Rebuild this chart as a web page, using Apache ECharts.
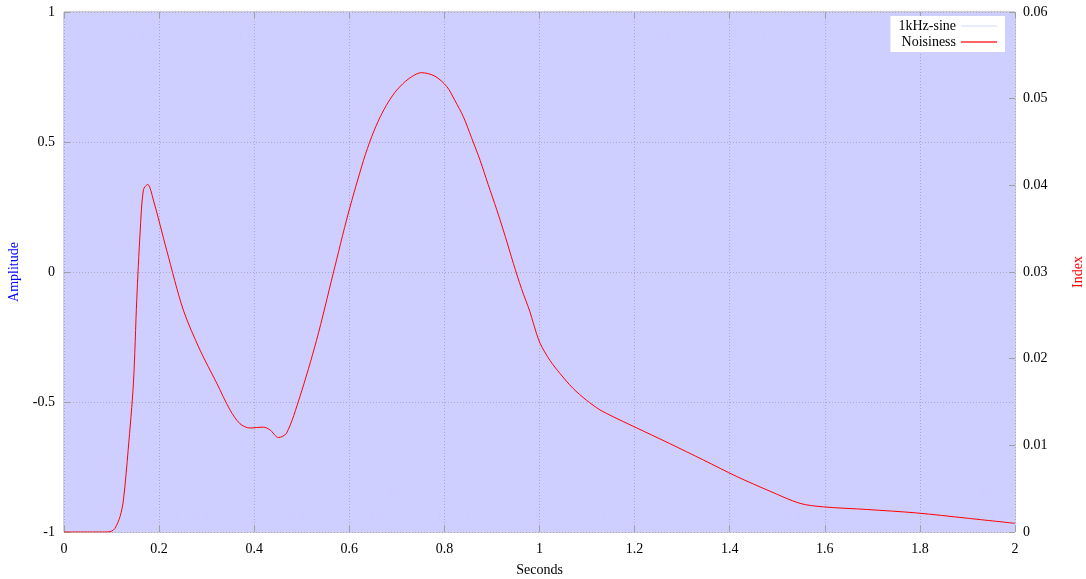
<!DOCTYPE html>
<html lang="en">

<head>
    <meta charset="UTF-8">
    <title>1kHz-sine / Noisiness</title>
    <script src="https://cdn.jsdelivr.net/npm/echarts@6/dist/echarts.min.js"></script>
    <style>
        html, body { margin: 0; padding: 0; background: #fff; }
        #chart { width: 1086px; height: 579px; }
    </style>
</head>

<body>
    <div id="chart"></div>

    <script>
        // 数据
        // one period of the 1 kHz sine (peaks at +1 / -1)
        let sineCycle = [0, 1, 0, -1]
        let sineFreqHz = 1000
        let durationSec = 2

        // Noisiness index
        let noiseT = [0, 0.05, 0.09, 0.1, 0.107, 0.118, 0.125, 0.135, 0.146, 0.153, 0.16, 0.167, 0.176, 0.188,
            0.216, 0.251, 0.286, 0.321, 0.349, 0.37, 0.391, 0.419, 0.433, 0.451, 0.468, 0.496, 0.531, 0.566,
            0.598, 0.63, 0.647, 0.665, 0.682, 0.7, 0.725, 0.752, 0.78, 0.805, 0.822, 0.84, 0.857, 0.875, 0.892,
            0.91, 0.928, 0.945, 0.962, 0.98, 0.987, 1.001, 1.022, 1.043, 1.07, 1.099, 1.127,
            1.155, 1.197, 1.274, 1.345, 1.415, 1.485, 1.548, 1.597, 1.688, 1.793, 1.898, 2.0]
        let noiseV = [0, 0, 0, 0.0001, 0.0004, 0.0018, 0.0037, 0.0095, 0.0172, 0.0268, 0.0345, 0.0395, 0.0401, 0.0383,
            0.0325, 0.0256, 0.021, 0.0172, 0.0141, 0.0125, 0.012, 0.0121, 0.0118, 0.0109, 0.0114, 0.0156, 0.0221, 0.0298,
            0.0368, 0.0429, 0.0456, 0.0479, 0.0496, 0.051, 0.0523, 0.053, 0.0526, 0.0514, 0.0498, 0.0479, 0.0455, 0.0429, 0.0401,
            0.0372, 0.0341, 0.031, 0.0281, 0.0254, 0.0241, 0.0218, 0.0198, 0.0183, 0.0166, 0.0152, 0.0141,
            0.0133, 0.0122, 0.0102, 0.0083, 0.0064, 0.0047, 0.0033, 0.0029, 0.0026, 0.0022, 0.0016, 0.001]

        // build series data
        let sineData = []
        let step = 1 / (sineFreqHz * sineCycle.length)
        let total = Math.round(durationSec / step)
        for (let i = 0; i <= total; i++) {
            sineData.push([i * step, sineCycle[i % sineCycle.length]])
        }
        let noiseData = []
        for (let i = 0; i < noiseT.length; i++) {
            noiseData.push([noiseT[i], noiseV[i]])
        }

        let myChart = echarts.init(document.getElementById('chart'))
        let font = 'Liberation Serif'
        let grey = '#a0a0a0'
        let gridLine = { show: true, lineStyle: { color: '#a8a8c8', type: [1, 2], width: 1 } }
        let tick = { show: true, inside: true, length: 6, lineStyle: { color: grey } }

        let option = {
            animation: false,
            textStyle: { fontFamily: font },
            grid: {
                left: 64, right: 71, top: 12, bottom: 47,
                outerBoundsMode: 'none',
                containLabel: false,
                show: true, borderColor: grey, borderWidth: 1, backgroundColor: 'transparent'
            },
            legend: {
                orient: 'vertical',
                right: 81,
                top: 16,
                align: 'right',
                backgroundColor: '#fff',
                padding: [3, 8, 3, 8],
                itemGap: 2,
                itemWidth: 36,
                itemHeight: 1.5,
                icon: 'rect',
                z: 6,
                textStyle: { fontFamily: font, fontSize: 14, color: '#000' },
                data: ['1kHz-sine', 'Noisiness']
            },
            xAxis: [
                {
                    type: 'value', min: 0, max: 2, interval: 0.2, z: 3,
                    name: 'Seconds', nameLocation: 'middle', nameGap: 31,
                    nameTextStyle: { fontFamily: font, fontSize: 14, color: '#000' },
                    axisLine: { show: false, onZero: false },
                    axisTick: tick,
                    axisLabel: { fontFamily: font, fontSize: 14, color: '#000', margin: 10 },
                    splitLine: gridLine
                },
                {
                    type: 'value', min: 0, max: 2, interval: 0.2, position: 'top', z: 3,
                    axisLine: { show: false, onZero: false },
                    axisTick: tick,
                    axisLabel: { show: false },
                    splitLine: { show: false }
                }
            ],
            yAxis: [
                {
                    type: 'value', min: -1, max: 1, interval: 0.5, z: 3,
                    name: 'Amplitude', nameLocation: 'middle', nameGap: 43, nameRotate: 90,
                    nameTextStyle: { fontFamily: font, fontSize: 14, color: '#0000ff' },
                    axisLine: { show: false, onZero: false },
                    axisTick: tick,
                    axisLabel: { fontFamily: font, fontSize: 14, color: '#000', margin: 9 },
                    splitLine: gridLine
                },
                {
                    type: 'value', min: 0, max: 0.06, interval: 0.01, position: 'right', z: 3,
                    name: 'Index', nameLocation: 'middle', nameGap: 56, nameRotate: 90,
                    nameTextStyle: { fontFamily: font, fontSize: 14, color: '#ff0000' },
                    axisLine: { show: false, onZero: false },
                    axisTick: tick,
                    axisLabel: { fontFamily: font, fontSize: 14, color: '#000', margin: 8 },
                    splitLine: { show: false }
                }
            ],
            series: [
                {
                    name: '1kHz-sine',
                    type: 'line',
                    xAxisIndex: 0,
                    yAxisIndex: 0,
                    symbol: 'none',
                    silent: true,
                    z: 1,
                    lineStyle: { color: '#cfcfff', width: 1 },
                    itemStyle: { color: '#e4e4ff' },
                    data: sineData
                },
                {
                    name: 'Noisiness',
                    type: 'line',
                    xAxisIndex: 0,
                    yAxisIndex: 1,
                    symbol: 'none',
                    smooth: 0.3,
                    z: 5,
                    lineStyle: { color: '#ff0000', width: 1 },
                    itemStyle: { color: '#ff3030' },
                    data: noiseData
                }
            ]
        }

        myChart.setOption(option)
    </script>
</body>

</html>
